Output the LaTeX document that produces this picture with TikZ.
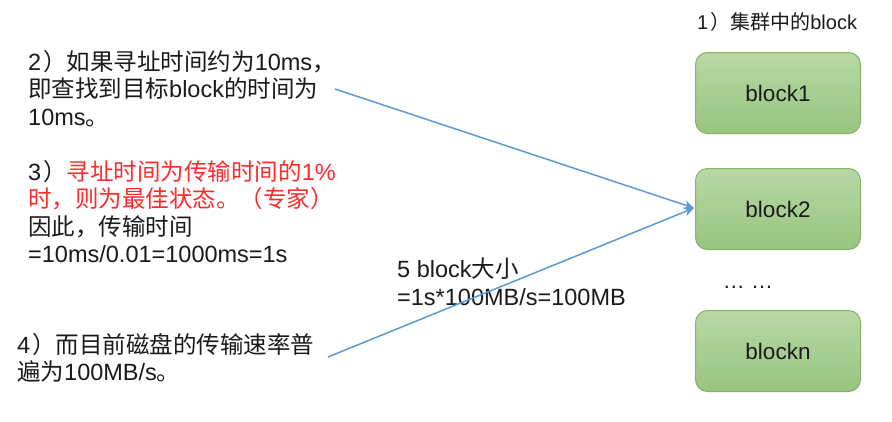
\documentclass[tikz,border=0pt]{standalone}
\usepackage{fontspec}
\setmainfont{Liberation Sans}
\newfontfamily\cjk{Noto Sans CJK SC}
\newcommand\zh[1]{{\cjk #1}}
\usetikzlibrary{arrows.meta}
\definecolor{boxtop}{HTML}{B8D8A6}
\definecolor{boxbot}{HTML}{97C47E}
\definecolor{boxline}{HTML}{82B366}
\definecolor{arrowblue}{HTML}{5B9BD5}
\definecolor{txtred}{HTML}{FF2A2A}
\definecolor{txtgray}{HTML}{1A1A1A}
\tikzset{
  blockbox/.style={draw=boxline, line width=1pt, rounded corners=12pt,
    top color=boxtop, bottom color=boxbot, minimum width=165pt,
    minimum height=81pt, anchor=north west, text=txtgray,
    font=\fontsize{22.5}{26}\selectfont},
  bodytext/.style={anchor=north west, inner sep=0pt, align=left, text=txtgray,
    font=\fontsize{23.5}{27.5}\selectfont},
  link/.style={draw=arrowblue, line width=1.5pt, -{Stealth[length=10pt,width=9pt]}}
}
\begin{document}
\begin{tikzpicture}[x=1pt,y=-1pt]
\useasboundingbox[fill=white] (0,0) rectangle (892,421);
\node[bodytext, font=\fontsize{20}{24}\selectfont] (title) at (697,12) {1\kern2pt\zh{）集群中的}block};
\node[blockbox] (b1) at (695,52) {block1};
\node[blockbox] (b2) at (695,168) {block2};
\node[blockbox] (bn) at (695,310) {blockn};
\node[text=txtgray, font=\fontsize{22}{24}\selectfont] (dots) at (748,287) {… …};
\node[bodytext] (t2) at (28,50) {2\kern2pt\zh{）如果寻址时间约为}10ms\zh{，}\\\zh{即查找到目标}block\zh{的时间为}\\10ms\zh{。}};
\node[bodytext] (t3) at (28,160) {3\kern2pt\zh{）}\textcolor{txtred}{\zh{寻址时间为传输时间的}1\%}\\\textcolor{txtred}{\zh{时，则为最佳状态。（专家）}}\\\zh{因此，传输时间}\\=10ms/0.01=1000ms=1s};
\node[bodytext] (t5) at (397,258) {5 block\zh{大小}\\=1s*100MB/s=100MB};
\node[bodytext] (t4) at (17,333) {4\kern2pt\zh{）而目前磁盘的传输速率普}\\\zh{遍为}100MB/s\zh{。}};
\coordinate (s1) at (335,89);
\coordinate (s2) at (328,357);
\coordinate (tip) at (694,208);
\draw[link] (s1) -- (tip);
\draw[link] (s2) -- (tip);
\end{tikzpicture}
\end{document}
